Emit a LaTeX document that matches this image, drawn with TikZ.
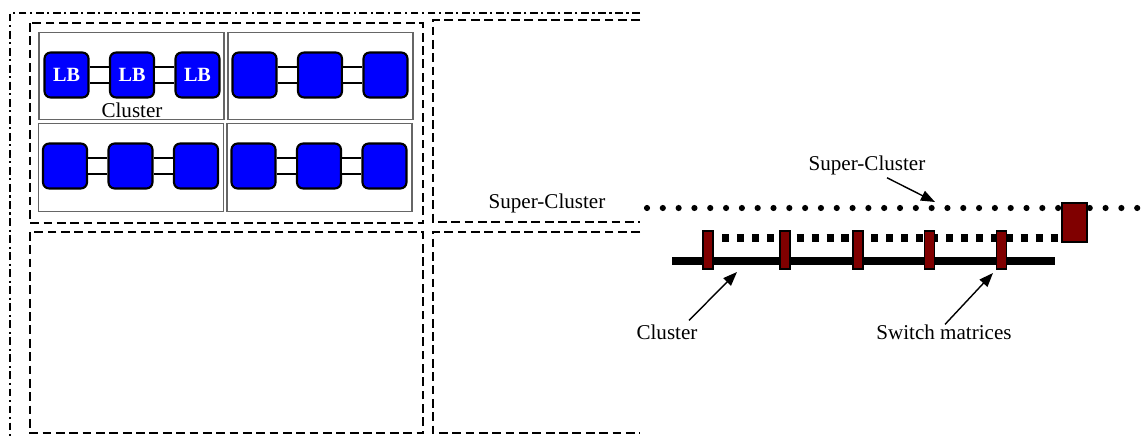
\documentclass[tikz,border=0pt]{standalone}
\usepackage{fontspec}
\setmainfont{Liberation Serif}
\usetikzlibrary{positioning,arrows.meta,calc,backgrounds}

\definecolor{lbblue}{RGB}{0,0,255}
\definecolor{swred}{RGB}{128,0,0}

\begin{document}
\begin{tikzpicture}[x=0.02cm, y=-0.02cm, node distance=1.31cm, on grid,
	font=\fontsize{12}{14}\selectfont,
	lb/.style={draw, line width=1.2pt, rounded corners=3.5pt, fill=lbblue, inner sep=0pt,
		minimum width=0.88cm, minimum height=0.9cm, text=white, font=\fontsize{11.5}{13}\selectfont\bfseries},
	link/.style={double, double distance=8.5pt, line width=1pt},
	clbox/.style={draw=black!60, line width=0.8pt, inner sep=0pt, minimum width=3.7cm, minimum height=1.75cm},
	sclbox/.style={line width=1.3pt, dash pattern=on 5pt off 2.6pt},
	outerbox/.style={line width=1.3pt, dash pattern=on 4.5pt off 2pt on 1.2pt off 2pt},
	sw/.style={draw, line width=0.6pt, fill=swred, inner sep=0pt, minimum width=0.2cm, minimum height=0.76cm},
	scldots/.style={line width=3.5pt, line cap=round, dash pattern=on 0pt off 9pt},
	sqdots/.style={line width=4.2pt, dash pattern=on 4pt off 4.5pt},
	bus/.style={line width=4pt},
	pointer/.style={line width=0.8pt, -{Triangle[length=8pt,width=6pt]}}]
	\useasboundingbox (0,0) rectangle (1145,439);

	% super-clusters of the left part
	\draw[outerbox] (640,13) -- (10,13) -- (10,445);
	\draw[sclbox] (30,23) rectangle (423,223);
	\draw[sclbox] (640,20) -- (433,20) -- (433,222) -- (640,222);
	\draw[sclbox] (30,232) rectangle (423,433);
	\draw[sclbox] (640,232) -- (433,232) -- (433,433) -- (640,433);
	\node (scl1) at (547,203) {Super-Cluster};

	% clusters of three LBs
	\node[clbox] (c1) at (131.5,76) {};
	\node[clbox] (c2) at (320.5,76) {};
	\node[clbox] (c3) at (131,167.5) {};
	\node[clbox] (c4) at (319.5,167.5) {};

	\node[lb] (lb12) at (132,75) {LB};
	\node[lb] (lb11) [left=of lb12] {LB};
	\node[lb] (lb13) [right=of lb12] {LB};
	\node (cl1) [below=0.7cm of lb12] {Cluster};

	\node[lb] (lb22) at (320,75) {};
	\node[lb] (lb21) [left=of lb22] {};
	\node[lb] (lb23) [right=of lb22] {};

	\node[lb] (lb32) at (130.5,166) {};
	\node[lb] (lb31) [left=of lb32] {};
	\node[lb] (lb33) [right=of lb32] {};

	\node[lb] (lb42) at (319,166) {};
	\node[lb] (lb41) [left=of lb42] {};
	\node[lb] (lb43) [right=of lb42] {};

	\draw[link] (lb11) -- (lb12) (lb12) -- (lb13);
	\draw[link] (lb21) -- (lb22) (lb22) -- (lb23);
	\draw[link] (lb31) -- (lb32) (lb32) -- (lb33);
	\draw[link] (lb41) -- (lb42) (lb42) -- (lb43);

	% switch matrices on the cluster and super-cluster lines
	\node[sw, minimum width=0.5cm, minimum height=0.78cm] (swbig) at (1074.5,222.5) {};
	\node[sw] (sm1) at (708,250) {};
	\node[sw] (sm2) [right=1.54cm of sm1] {};
	\node[sw] (sm3) [right=1.46cm of sm2] {};
	\node[sw] (sm4) [right=1.44cm of sm3] {};
	\node[sw] (sm5) [right=1.44cm of sm4] {};

	\coordinate (dots-w) at (647,208);
	\coordinate (dots-e) at (1150,208);
	\coordinate (sq-w) at (722,238);
	\coordinate (bus-w) at (672,261);
	\coordinate (bus-e) at (1055,261);
	\begin{pgfonlayer}{background}
		\draw[scldots] (dots-w) -- (dots-e);
		\draw[sqdots] (sq-w) -- (swbig.west |- sq-w);
		\draw[bus] (bus-w) -- (bus-e);
	\end{pgfonlayer}

	\node (scl2) at (867,165) {Super-Cluster};
	\node (cl2) at (667,332) {Cluster};
	\node (smx) at (944,332) {Switch matrices};

	\coordinate (scl-tip) at (935,202);
	\coordinate (bus-tip) at (737,272);
	\coordinate (sm-tip) at (993,273);
	\draw[pointer] ($(scl2.south)+(20,-3)$) -- (scl-tip);
	\draw[pointer] ($(cl2.north)+(22,2)$) -- (bus-tip);
	\draw[pointer] ($(smx.north)+(1,6)$) -- (sm-tip);
\end{tikzpicture}
\end{document}
